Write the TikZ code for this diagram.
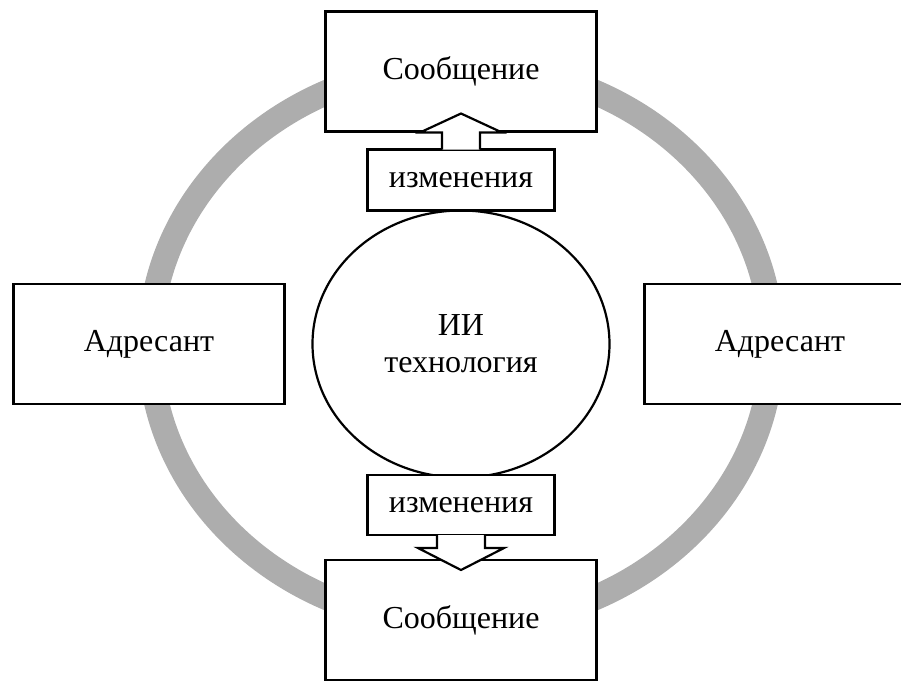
\documentclass[tikz,border=0pt]{standalone}
\usepackage{fontspec}
\setmainfont{Liberation Serif}
\usepackage{tikz}
\usetikzlibrary{positioning,shapes.geometric}
\definecolor{ringgray}{RGB}{173,173,173}

\begin{document}
\begin{tikzpicture}[x=0.5pt, y=-0.5pt, line width=1.1pt,
    font=\fontsize{16}{18.4}\selectfont,
    main/.style = {draw, fill=white, minimum width=135.5pt, minimum height=60pt, inner sep=0pt, outer sep=0pt},
    small/.style = {draw, fill=white, minimum width=93.5pt, minimum height=30.5pt, inner sep=0pt, outer sep=0pt},
    core/.style = {draw, ellipse, fill=white, minimum width=148.5pt, minimum height=133.5pt, align=center, inner sep=0pt, outer sep=0pt},
    blockarrow/.style = {draw, fill=white, line join=miter}]
    \useasboundingbox (0,0) rectangle (901,682);
    % gray ring behind everything
    \draw[ringgray, line width=12.5pt] (461,345) ellipse [x radius=311, y radius=280];
    \node[core] (ii) at (461,344) {ИИ\\технология};
    \node[small] (ch1) [above=0pt of ii] {изменения};
    \node[main] (msg1) [above=9pt of ch1] {Сообщение};
    \node[small, minimum height=30pt] (ch2) [below=-1.25pt of ii] {изменения};
    \node[main] (msg2) [below=12.5pt of ch2] {Сообщение};
    \node[main] (adr1) [left=14pt of ii] {Адресант};
    \node[main] (adr2) [right=17.5pt of ii] {Адресант};
    % block arrows
    \draw[blockarrow] ([xshift=-9.5pt]ch1.north) -- ++(0pt,8.5pt) -- ++(-11pt,0pt)
        -- ([yshift=18pt]ch1.north) -- ([xshift=20.5pt,yshift=8.5pt]ch1.north)
        -- ++(-11pt,0pt) -- ([xshift=9.5pt]ch1.north);
    \draw[blockarrow] ([xshift=-12pt]ch2.south) -- ++(0pt,-6.5pt) -- ++(-9.5pt,0pt)
        -- ([yshift=-17.5pt]ch2.south) -- ([xshift=21.5pt,yshift=-6.5pt]ch2.south)
        -- ++(-9.5pt,0pt) -- ([xshift=12pt]ch2.south);
\end{tikzpicture}
\end{document}
